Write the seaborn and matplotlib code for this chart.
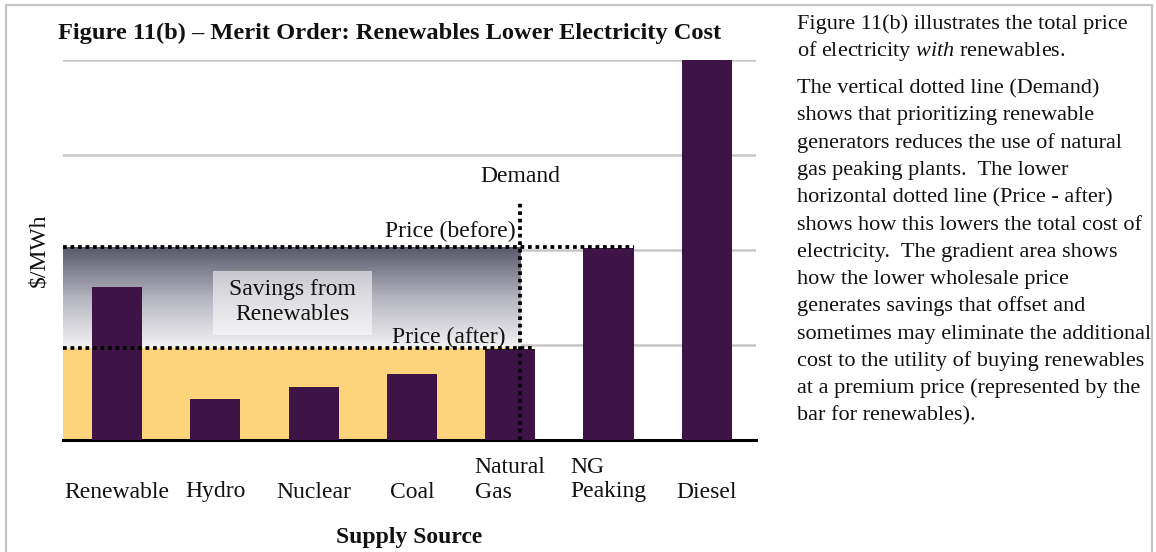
import matplotlib
matplotlib.use("Agg")
import matplotlib.pyplot as plt
import seaborn as sns
import numpy as np
import pandas as pd
from matplotlib.colors import LinearSegmentedColormap
from matplotlib.patches import Rectangle
from matplotlib.lines import Line2D

# valores ($/MWh, escala relativa)
fontes = ["Renewable", "Hydro", "Nuclear", "Coal", "Natural\nGas", "NG\nPeaking", "Diesel"]
custos = [1.61, 0.43, 0.56, 0.69, 0.96, 2.02, 4.0]
preco_antes = 2.03
preco_depois = 0.97
demanda_x = 4.10
demanda_topo = 2.53

texto_1 = ["Figure 11(b) illustrates the total price",
           r"of electricity $\mathit{with}$ renewables."]
texto_2 = ["The vertical dotted line (Demand)",
           "shows that prioritizing renewable",
           "generators reduces the use of natural",
           "gas peaking plants.  The lower",
           "horizontal dotted line (Price - after)",
           "shows how this lowers the total cost of",
           "electricity.  The gradient area shows",
           "how the lower wholesale price",
           "generates savings that offset and",
           "sometimes may eliminate the additional",
           "cost to the utility of buying renewables",
           "at a premium price (represented by the",
           "bar for renewables)."]

sns.set_theme(style="white")
plt.rcParams["font.family"] = ["Liberation Serif", "DejaVu Serif"]
plt.rcParams["mathtext.fontset"] = "custom"
plt.rcParams["mathtext.rm"] = "Liberation Serif"
plt.rcParams["mathtext.it"] = "Liberation Serif:italic"

roxo = "#3e1446"
amarelo = "#fdd47c"
W, H = 1156, 552

fig = plt.figure(figsize=(W / 100, H / 100), dpi=100)
ax = fig.add_axes([63 / W, 1 - 440 / H, 693 / W, 380 / H])

df = pd.DataFrame({"fonte": fontes, "custo": custos})
sns.barplot(data=df, x="fonte", y="custo", color=roxo, saturation=1,
            width=0.51, ax=ax, zorder=4, edgecolor=roxo, linewidth=0)

ax.set_xlim(-0.55, 6.5)
ax.set_ylim(0, 4)
ax.set_yticks([1, 2, 3, 4])
ax.set_yticklabels([])
ax.yaxis.grid(True, color="#c6c6c6", lw=1.8)
ax.set_axisbelow(True)
for s in ["top", "right", "left"]:
    ax.spines[s].set_visible(False)
ax.spines["bottom"].set_color("black")
ax.spines["bottom"].set_linewidth(2.2)
ax.tick_params(axis="both", length=0)
ax.tick_params(axis="x", pad=45, labelsize=17)
plt.setp(ax.get_xticklabels(), va="bottom", multialignment="left", color="#111111")

# areas: amarelo (preco depois) e gradiente (economia)
ax.fill_between([-0.55, demanda_x], 0, preco_depois, color=amarelo, zorder=2, lw=0)
cmap = LinearSegmentedColormap.from_list("grad", ["#f3f3f5", "#b4b4be", "#58586c"])
grad = np.linspace(0, 1, 256).reshape(-1, 1)
ax.imshow(grad, cmap=cmap, origin="lower", aspect="auto", zorder=2,
          extent=[-0.55, demanda_x, preco_depois, preco_antes])
ax.add_patch(Rectangle((0.975, 1.105), 1.615, 0.675, facecolor="white",
                       alpha=0.55, lw=0, zorder=3))
ax.text(1.78, 1.45, "Savings from\nRenewables", ha="center", va="center",
        fontsize=17, color="#111111", zorder=5, linespacing=1.25)

# linhas pontilhadas
pont = dict(color="black", lw=2.7, ls=(0, (1, 1)), dash_capstyle="butt", zorder=6)
ax.plot([-0.55, 5.255], [preco_antes, preco_antes], **pont)
ax.plot([-0.55, 4.255], [preco_depois, preco_depois], **pont)
ax.plot([demanda_x, demanda_x], [0, demanda_topo], **pont)

ax.text(demanda_x, 2.77, "Demand", ha="center", va="center", fontsize=17, color="#111111")
ax.text(4.05, 2.19, "Price (before)", ha="right", va="center", fontsize=17, color="#111111", zorder=7)
ax.text(3.95, 1.08, "Price (after)", ha="right", va="center", fontsize=17, color="#111111", zorder=7)

ax.set_xlabel("Supply Source", fontsize=17, fontweight="bold", labelpad=18, color="#111111")
ax.set_ylabel("$/MWh", fontsize=17, labelpad=6, color="#111111")

fig.text(390 / W, 1 - 33 / H, "Figure 11(b) – Merit Order: Renewables Lower Electricity Cost",
         ha="center", va="center", fontsize=17.6, fontweight="bold", color="#111111")

# texto lateral
x_txt = 797 / W
for i, linha in enumerate(texto_1):
    fig.text(x_txt, 1 - (29 + 26.5 * i) / H, linha, fontsize=16, va="baseline", color="#111111")
for i, linha in enumerate(texto_2):
    fig.text(x_txt, 1 - (93 + 27.3 * i) / H, linha, fontsize=16, va="baseline", color="#111111")

# moldura
cinza = "#c4c4c4"
fig.add_artist(Line2D([6 / W, 6 / W], [0, 1 - 5 / H], color=cinza, lw=1.6, transform=fig.transFigure))
fig.add_artist(Line2D([1152 / W, 1152 / W], [0, 1 - 5 / H], color=cinza, lw=1.6, transform=fig.transFigure))
fig.add_artist(Line2D([6 / W, 1152 / W], [1 - 5 / H, 1 - 5 / H], color=cinza, lw=1.6, transform=fig.transFigure))

fig.savefig("out.png", dpi=100)
